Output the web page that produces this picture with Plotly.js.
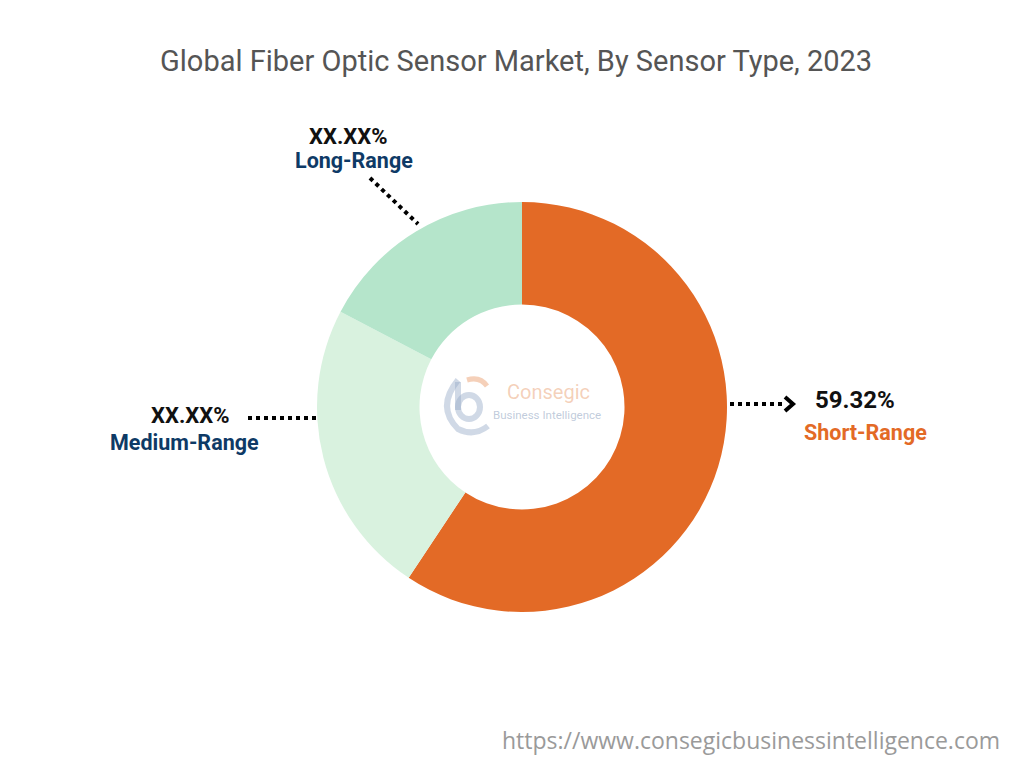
<!DOCTYPE html>
<html>
<head>
<meta charset="utf-8">
<script src="https://cdn.plot.ly/plotly-3.0.1.min.js"></script>
<style>html,body{margin:0;padding:0;background:#fff;}#chart{width:1024px;height:768px;}</style>
</head>
<body>
<div id="chart"></div>
<script>
const categories = ["Short-Range", "Medium-Range", "Long-Range"];
const values = [59.32, 23.38, 17.30];
const valueLabels = ["59.32%", "XX.XX%", "XX.XX%"];
const colors = ["#E36A26", "#D9F2DF", "#B5E5CB"];
const nameColors = ["#E36A26", "#0E3A66", "#0E3A66"];

const W = 1024, H = 768;
const px = x => x / W;
const py = y => 1 - y / H;

const cx = 522, cy = 407, R = 205;

const trace = {
  type: "pie",
  labels: categories,
  values: values,
  marker: { colors: colors, line: { width: 0 } },
  hole: 0.5,
  sort: false,
  direction: "clockwise",
  rotation: 0,
  textinfo: "none",
  hoverinfo: "label+percent",
  showlegend: false,
  domain: { x: [px(cx - R), px(cx + R)], y: [py(cy + R), py(cy - R)] }
};

const labelPos = [
  { pct: [855, 400], name: [865, 432] },
  { pct: [190, 415], name: [184, 442] },
  { pct: [348, 137], name: [354, 161] }
];

const annotations = [];
categories.forEach((c, i) => {
  annotations.push({
    xref: "paper", yref: "paper", x: px(labelPos[i].pct[0]), y: py(labelPos[i].pct[1]),
    text: "<b>" + valueLabels[i] + "</b>", showarrow: false, xanchor: "center", yanchor: "middle",
    font: { family: "Roboto, Arial, sans-serif", size: i === 0 ? 24 : 22, color: "#111111" }
  });
  annotations.push({
    xref: "paper", yref: "paper", x: px(labelPos[i].name[0]), y: py(labelPos[i].name[1]),
    text: "<b>" + c + "</b>", showarrow: false, xanchor: "center", yanchor: "middle",
    font: { family: "Roboto, Arial, sans-serif", size: 21.5, color: nameColors[i] }
  });
});

// faint logo text in the center
annotations.push({
  xref: "paper", yref: "paper", x: px(505), y: py(392), xanchor: "left", yanchor: "middle",
  text: "Consegic", showarrow: false,
  font: { family: "Roboto, Arial, sans-serif", size: 20, color: "rgba(232,150,100,0.45)" }
});
annotations.push({
  xref: "paper", yref: "paper", x: px(491), y: py(415), xanchor: "left", yanchor: "middle",
  text: "Business Intelligence", showarrow: false,
  font: { family: "Roboto, Arial, sans-serif", size: 11.5, color: "rgba(140,160,190,0.55)" }
});

// url
annotations.push({
  xref: "paper", yref: "paper", x: px(1002), y: py(740), xanchor: "right", yanchor: "middle",
  text: "https://www.consegicbusinessintelligence.com", showarrow: false,
  font: { family: "Open Sans, Arial, sans-serif", size: 23, color: "#9a9a9a" }
});

const dot = { color: "#000000", width: 4, dash: "dot" };
const shapes = [
  { type: "line", xref: "paper", yref: "paper", x0: px(370), y0: py(178), x1: px(418), y1: py(224), line: dot },
  { type: "line", xref: "paper", yref: "paper", x0: px(248), y0: py(418), x1: px(318), y1: py(418), line: dot },
  { type: "line", xref: "paper", yref: "paper", x0: px(730), y0: py(404), x1: px(784), y1: py(404), line: dot },
  { type: "path", xref: "paper", yref: "paper",
    path: `M ${px(785)} ${py(397)} L ${px(793)} ${py(404)} L ${px(785)} ${py(411)}`,
    line: { color: "#000000", width: 4 } },
  // logo pieces
  { type: "path", xref: "paper", yref: "paper",
    path: `M ${px(458)} ${py(380)} Q ${px(436)} ${py(407)} ${px(458)} ${py(429)} Q ${px(474)} ${py(437)} ${px(488)} ${py(426)}`,
    line: { color: "rgba(150,170,200,0.45)", width: 6 } },
  { type: "path", xref: "paper", yref: "paper",
    path: `M ${px(458)} ${py(382)} L ${px(458)} ${py(410)}`,
    line: { color: "rgba(150,170,200,0.45)", width: 6 } },
  { type: "circle", xref: "paper", yref: "paper", x0: px(458), y0: py(395), x1: px(480), y1: py(419),
    line: { color: "rgba(150,170,200,0.45)", width: 6 } },
  { type: "path", xref: "paper", yref: "paper",
    path: `M ${px(467)} ${py(380)} Q ${px(480)} ${py(376)} ${px(487)} ${py(386)}`,
    line: { color: "rgba(232,150,100,0.45)", width: 5 } }
];

const layout = {
  width: W, height: H,
  margin: { l: 0, r: 0, t: 0, b: 0 },
  paper_bgcolor: "#ffffff",
  plot_bgcolor: "#ffffff",
  title: {
    text: "Global Fiber Optic Sensor Market, By Sensor Type, 2023",
    x: 0.504, xanchor: "center", y: py(61), yanchor: "middle", yref: "paper",
    font: { family: "Roboto, Arial, sans-serif", size: 29, color: "#555555" }
  },
  annotations: annotations,
  shapes: shapes
};

Plotly.newPlot("chart", [trace], layout, { displayModeBar: false, staticPlot: true });
</script>
</body>
</html>
